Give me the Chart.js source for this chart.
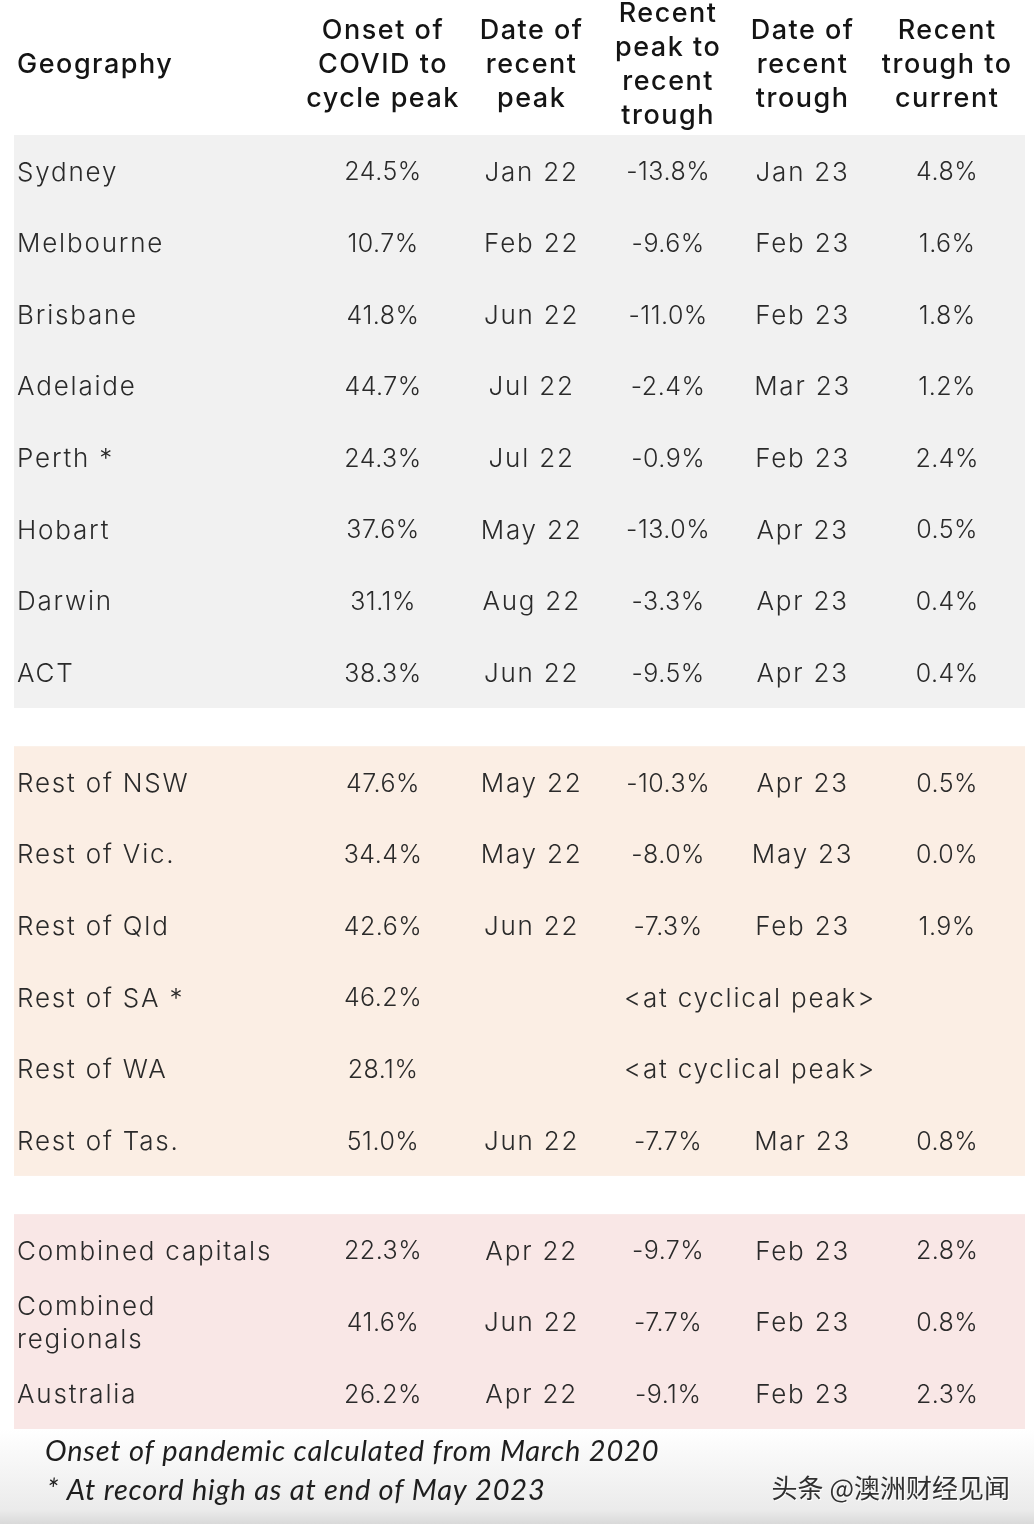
<!DOCTYPE html>
<html>
<head>
<meta charset="utf-8">
<script src="https://cdn.jsdelivr.net/npm/chart.js@4/dist/chart.umd.min.js"></script>
<style>
  html, body { margin: 0; padding: 0; background: #fff; }
  #wrap { width: 1034px; height: 1524px; position: relative; }
</style>
</head>
<body>
<div id="wrap"><canvas id="housing"></canvas></div>
<script>
// table data
var headerLines = [
	["Geography"],
	["Onset of", "COVID to", "cycle peak"],
	["Date of", "recent", "peak"],
	["Recent", "peak to", "recent", "trough"],
	["Date of", "recent", "trough"],
	["Recent", "trough to", "current"]
];
var geography = [
	"Sydney", "Melbourne", "Brisbane", "Adelaide", "Perth *", "Hobart", "Darwin", "ACT",
	"Rest of NSW", "Rest of Vic.", "Rest of Qld", "Rest of SA *", "Rest of WA", "Rest of Tas.",
	"Combined capitals", "Combined\nregionals", "Australia"
];
var groupSizes = [8, 6, 3];
var onsetToPeak = [24.5, 10.7, 41.8, 44.7, 24.3, 37.6, 31.1, 38.3, 47.6, 34.4, 42.6, 46.2, 28.1, 51.0, 22.3, 41.6, 26.2];
var peakDate = ["Jan 22", "Feb 22", "Jun 22", "Jul 22", "Jul 22", "May 22", "Aug 22", "Jun 22",
	"May 22", "May 22", "Jun 22", null, null, "Jun 22", "Apr 22", "Jun 22", "Apr 22"];
var peakToTrough = [-13.8, -9.6, -11.0, -2.4, -0.9, -13.0, -3.3, -9.5, -10.3, -8.0, -7.3, null, null, -7.7, -9.7, -7.7, -9.1];
var troughDate = ["Jan 23", "Feb 23", "Feb 23", "Mar 23", "Feb 23", "Apr 23", "Apr 23", "Apr 23",
	"Apr 23", "May 23", "Feb 23", null, null, "Mar 23", "Feb 23", "Feb 23", "Feb 23"];
var troughToCurrent = [4.8, 1.6, 1.8, 1.2, 2.4, 0.5, 0.4, 0.4, 0.5, 0.0, 1.9, null, null, 0.8, 2.8, 0.8, 2.3];
var atPeakText = "<at cyclical peak>";
var notes = ["Onset of pandemic calculated from March 2020", "* At record high as at end of May 2023"];
var watermark = "头条 @澳洲财经见闻";

// layout (percent of table width, row units)
var colCenter = [0.3, 36.5, 51.2, 64.7, 78.0, 92.3];
var atPeakCenter = 72.8;
var GAP = 0.534;
var HEADER_ROW = -1.48;
var bandColors = ["#f1f1f1", "#fbeee4", "#f9e7e6"];

var rowPos = [];
(function () {
	var r = 0;
	for (var g = 0; g < groupSizes.length; g++) {
		for (var k = 0; k < groupSizes[g]; k++) {
			rowPos.push(r + g * GAP);
			r++;
		}
	}
})();

function pct(v) {
	return v === null ? null : v.toFixed(1) + "%";
}

var cellText = [geography, onsetToPeak.map(pct), peakDate, peakToTrough.map(pct), troughDate, troughToCurrent.map(pct)];
var isWordCol = [true, false, true, false, true, false];

var datasets = cellText.map(function (col, c) {
	var pts = [];
	col.forEach(function (t, r) {
		if (t !== null) pts.push({ x: colCenter[c], y: rowPos[r], text: t });
	});
	return {
		label: headerLines[c].join(" "),
		data: pts,
		pointRadius: 0,
		textAlign: c === 0 ? "left" : "center",
		words: isWordCol[c]
	};
});
var atPeak = [];
peakDate.forEach(function (t, r) {
	if (t === null) atPeak.push({ x: atPeakCenter, y: rowPos[r], text: atPeakText });
});
datasets.push({ label: "note", data: atPeak, pointRadius: 0, textAlign: "center", words: true });

var WORD_FONT = "300 26px Inter, 'Noto Sans', sans-serif";
var NUM_FONT = "300 25px Inter, 'Noto Sans', sans-serif";
var HEAD_FONT = "500 27px Inter, 'Noto Sans', sans-serif";

var tablePlugin = {
	id: "tableDraw",
	beforeDraw: function (chart) {
		var ctx = chart.ctx;
		var area = chart.chartArea;
		var y = chart.scales.y;
		ctx.save();
		ctx.fillStyle = "#ffffff";
		ctx.fillRect(0, 0, chart.width, chart.height);
		// bottom fade
		var grd = ctx.createLinearGradient(0, area.bottom, 0, chart.height);
		grd.addColorStop(0, "#ffffff");
		grd.addColorStop(0.85, "#ebebeb");
		grd.addColorStop(1, "#d9d9d9");
		ctx.fillStyle = grd;
		ctx.fillRect(0, area.bottom, chart.width, chart.height - area.bottom);
		// group bands
		var start = 0;
		for (var g = 0; g < groupSizes.length; g++) {
			var end = start + groupSizes[g] - 1;
			var top = y.getPixelForValue(rowPos[start] - 0.5);
			var bot = y.getPixelForValue(rowPos[end] + 0.5);
			ctx.fillStyle = bandColors[g];
			ctx.fillRect(area.left, top, area.right - area.left, bot - top);
			start = end + 1;
		}
		ctx.restore();
	},
	afterDatasetsDraw: function (chart) {
		var ctx = chart.ctx;
		var x = chart.scales.x;
		var y = chart.scales.y;
		ctx.save();
		// header
		ctx.font = HEAD_FONT;
		ctx.letterSpacing = "1.5px";
		ctx.fillStyle = "#141414";
		ctx.textBaseline = "middle";
		headerLines.forEach(function (lines, c) {
			var cx = x.getPixelForValue(colCenter[c]);
			var cy = y.getPixelForValue(HEADER_ROW);
			ctx.textAlign = c === 0 ? "left" : "center";
			var lh = 34;
			lines.forEach(function (line, i) {
				ctx.fillText(line, cx, cy + (i - (lines.length - 1) / 2) * lh);
			});
		});
		// cells
		ctx.fillStyle = "#2a2a2a";
		chart.data.datasets.forEach(function (ds, d) {
			var meta = chart.getDatasetMeta(d);
			ctx.textAlign = ds.textAlign;
			ctx.font = ds.words ? WORD_FONT : NUM_FONT;
			ctx.letterSpacing = ds.words ? "1.8px" : "0.5px";
			meta.data.forEach(function (pt, i) {
				var lines = ds.data[i].text.split("\n");
				var lh = 33;
				lines.forEach(function (line, k) {
					ctx.fillText(line, pt.x, pt.y + 2 + (k - (lines.length - 1) / 2) * lh);
				});
			});
		});
		// notes
		var area = chart.chartArea;
		ctx.font = "italic 29px Lato, 'Open Sans', sans-serif";
		ctx.letterSpacing = "0.8px";
		ctx.fillStyle = "#1e1e1e";
		ctx.textAlign = "left";
		ctx.fillText(notes[0], 45, area.bottom + 23);
		ctx.fillText(notes[1], 47, area.bottom + 62);
		// watermark
		ctx.font = "26px 'Noto Sans CJK SC', sans-serif";
		ctx.letterSpacing = "0px";
		ctx.textAlign = "right";
		ctx.shadowColor = "rgba(255,255,255,0.9)";
		ctx.shadowOffsetX = 1;
		ctx.shadowOffsetY = 1;
		ctx.fillStyle = "#303030";
		ctx.fillText(watermark, 1010, area.bottom + 59);
		ctx.restore();
	}
};

window.onload = function () {
	new Chart(document.getElementById("housing").getContext("2d"), {
		type: "scatter",
		data: { datasets: datasets },
		options: {
			responsive: true,
			maintainAspectRatio: false,
			animation: false,
			events: [],
			layout: { padding: { top: 135, bottom: 95, left: 14, right: 9 } },
			plugins: { legend: { display: false }, tooltip: { enabled: false } },
			scales: {
				x: { type: "linear", min: 0, max: 100, display: false },
				y: { type: "linear", reverse: true, min: -0.5, max: rowPos[rowPos.length - 1] + 0.5, display: false }
			}
		},
		plugins: [tablePlugin]
	});
};
</script>
</body>
</html>
